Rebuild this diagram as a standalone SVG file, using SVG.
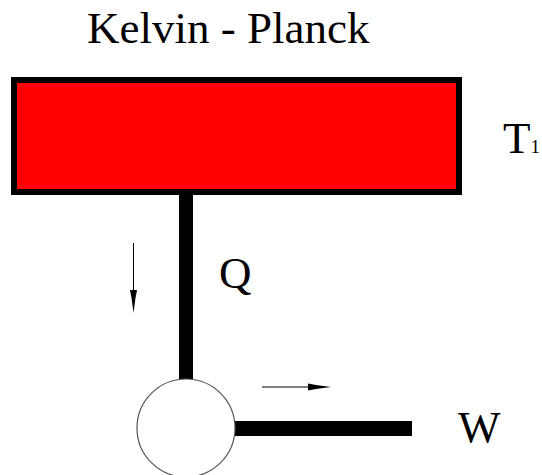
<svg xmlns="http://www.w3.org/2000/svg" width="542" height="475" viewBox="0 0 542 475">
<rect width="542" height="475" fill="#fff"/>
<g font-family="Liberation Serif, serif" font-size="45" fill="#000">
<text x="87" y="43">Kelvin - Planck</text>
<g id="reservoir">
<rect x="14" y="80" width="445" height="112" fill="#ff0000" stroke="#000" stroke-width="6"/>
<text x="503" y="153">T<tspan font-size="19">1</tspan></text>
</g>
<g id="connectors" stroke="#000" fill="none">
<line x1="186" y1="195" x2="186" y2="380" stroke-width="14"/>
<line x1="235" y1="428.5" x2="412" y2="428.5" stroke-width="15"/>
<line x1="133.5" y1="243" x2="133.5" y2="300" stroke-width="1"/>
<polygon points="130,290 137,290 135.5,298 133.5,313 131.5,298" fill="#000" stroke="none"/>
<line x1="262" y1="387" x2="318" y2="387" stroke-width="1"/>
<polygon points="308,383.5 308,390.5 316,389 331,387 316,385" fill="#000" stroke="none"/>
</g>
<g id="engine">
<circle cx="186" cy="428" r="49" fill="#fff" stroke="#555" stroke-width="1.2"/>
</g>
<text x="219" y="288">Q</text>
<text x="458" y="442">W</text>
</g>
</svg>
